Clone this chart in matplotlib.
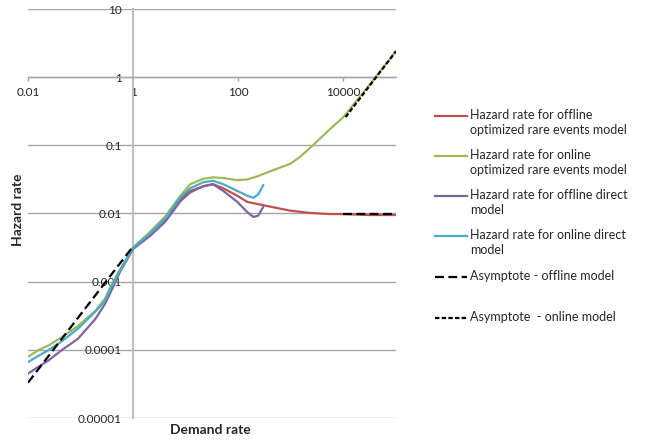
import matplotlib
matplotlib.use("Agg")
import matplotlib.pyplot as plt
import numpy as np
from matplotlib.lines import Line2D
from matplotlib.ticker import NullLocator

plt.rcParams['font.family'] = ['Lato', 'DejaVu Sans']

# ---------------- data ----------------
green_x = [0.01, 0.0155, 0.024, 0.043, 0.089, 0.19, 0.29, 0.38, 0.56, 1, 2.1, 4.1, 7.9,
           12.2, 21.6, 33, 52, 96, 148, 240, 407, 980, 1500, 2300, 5600, 10000, 32000,
           100000]
green_y = [7.9e-5, 9.8e-5, 1.15e-4, 1.51e-4, 2.24e-4, 3.72e-4, 5.6e-4, 8.7e-4, 1.51e-3,
           3.16e-3, 5.4e-3, 9.1e-3, 0.0182, 0.0269, 0.0324, 0.0339, 0.0331, 0.0309,
           0.0316, 0.0355, 0.0417, 0.0537, 0.068, 0.091, 0.174, 0.26, 0.79, 2.40]

cyan_x = [0.01, 0.0155, 0.024, 0.043, 0.089, 0.19, 0.29, 0.38, 0.56, 1, 2.1, 4.1, 7.9,
          12.2, 21.6, 33, 52, 96, 148, 193, 240, 300]
cyan_y = [6.6e-5, 8.1e-5, 9.8e-5, 1.32e-4, 2.04e-4, 3.63e-4, 5.2e-4, 8.3e-4, 1.45e-3,
          3.16e-3, 5.1e-3, 8.5e-3, 0.0174, 0.0234, 0.0288, 0.0302, 0.0269, 0.0214,
          0.0182, 0.0170, 0.0191, 0.0263]

purple_x = [0.01, 0.0155, 0.024, 0.043, 0.089, 0.19, 0.29, 0.38, 0.56, 1, 2.1, 4.1, 7.9,
            12.2, 21.6, 33, 52, 96, 148, 193, 240, 300]
purple_y = [4.47e-5, 5.6e-5, 6.9e-5, 9.8e-5, 1.45e-4, 2.82e-4, 4.68e-4, 7.2e-4, 1.38e-3,
            3.02e-3, 4.68e-3, 7.6e-3, 0.0151, 0.0204, 0.0251, 0.0269, 0.0214, 0.0148,
            0.0105, 0.0089, 0.0093, 0.0126]

red_x = [1, 2.1, 4.1, 7.9, 12.2, 21.6, 33, 52, 96, 148, 407, 980, 2300, 5600, 10000,
         32000, 100000]
red_y = [3.09e-3, 5.0e-3, 8.1e-3, 0.0162, 0.0214, 0.0251, 0.0269, 0.0234, 0.0182, 0.0148,
         0.0126, 0.0110, 0.0102, 0.0098, 0.0098, 0.0095, 0.0095]

offline_low_x = [0.01, 1]
offline_low_y = [3.3e-5, 3.3e-3]
offline_high_x = [10000, 100000]
offline_high_y = [0.0097, 0.0097]

online_x = [11000, 100000]
online_y = [0.26, 2.4]

y_ticks = [1e-5, 1e-4, 1e-3, 1e-2, 1e-1, 1, 10]
y_tick_labels = ["0.00001", "0.0001", "0.001", "0.01", "0.1", "1", "10"]
x_ticks = [0.01, 1, 100, 10000]
x_tick_labels = ["0.01", "1", "100", "10000"]

legend_labels = ["Hazard rate for offline\noptimized rare events model",
                 "Hazard rate for online\noptimized rare events model",
                 "Hazard rate for offline direct\nmodel",
                 "Hazard rate for online direct\nmodel",
                 "Asymptote - offline model",
                 "Asymptote  - online model"]

# ---------------- styles ----------------
C_RED = '#C0504D'
C_GREEN = '#9BBB59'
C_PURPLE = '#8064A2'
C_CYAN = '#4BACC6'
TXT = '#262626'
LW = 1.6

W, H = 655, 444
fig = plt.figure(figsize=(W / 100, H / 100), dpi=100)
ax = fig.add_axes([28 / W, 1 - 418 / H, (396 - 28) / W, (418 - 9) / H])
ax.set_xscale('log')
ax.set_yscale('log')
ax.set_xlim(0.01, 100000)
ax.set_ylim(1e-5, 10)

# gridlines
for yv in y_ticks:
    ax.axhline(yv, color='#a6a6a6', lw=1.0, zorder=0)

line_kw = dict(lw=LW, zorder=3, solid_joinstyle='round', solid_capstyle='round')
ax.plot(red_x, red_y, color=C_RED, **line_kw)
ax.plot(green_x, green_y, color=C_GREEN, **line_kw)
ax.plot(purple_x, purple_y, color=C_PURPLE, **line_kw)
ax.plot(cyan_x, cyan_y, color=C_CYAN, **line_kw)
ax.plot(offline_low_x, offline_low_y, color='black', lw=1.6, dashes=(4, 2), zorder=4)
ax.plot(offline_high_x, offline_high_y, color='black', lw=1.6, dashes=(4, 2), zorder=4)
ax.plot(online_x, online_y, color='black', lw=1.6, dashes=(2, 1), zorder=4)

# spines crossing at (1, 1)
ax.spines['top'].set_visible(False)
ax.spines['right'].set_visible(False)
ax.spines['left'].set_position(('data', 1))
ax.spines['bottom'].set_position(('data', 1))
ax.spines['left'].set_color('#bfbfbf')
ax.spines['left'].set_linewidth(1.5)
ax.spines['bottom'].set_color('#a6a6a6')
ax.spines['bottom'].set_linewidth(1.0)
ax.patch.set_visible(False)

ax.set_yticks(y_ticks)
ax.set_yticklabels(y_tick_labels)
ax.set_xticks(x_ticks)
ax.set_xticklabels(x_tick_labels)
ax.xaxis.set_minor_locator(NullLocator())
ax.yaxis.set_minor_locator(NullLocator())
ax.tick_params(axis='y', length=0, pad=8, labelsize=8.5, labelcolor=TXT)
ax.tick_params(axis='x', length=3, width=1, color='#a6a6a6', pad=4, labelsize=8.5,
               labelcolor=TXT, direction='out')

fig.text(18 / W, 1 - 210 / H, "Hazard rate", rotation=90, ha='center', va='center',
         fontsize=10, fontweight='bold', color=TXT)
fig.text(210 / W, 1 - 430 / H, "Demand rate", ha='center', va='center',
         fontsize=10, fontweight='bold', color=TXT)

# manual legend
leg_styles = [dict(color=C_RED, lw=LW), dict(color=C_GREEN, lw=LW),
              dict(color=C_PURPLE, lw=LW), dict(color=C_CYAN, lw=LW),
              dict(color='black', lw=1.6, dashes=(4, 2)),
              dict(color='black', lw=1.6, dashes=(2, 1))]
leg_y = [116, 156, 196, 236, 277, 318]
for lab, st, yy in zip(legend_labels, leg_styles, leg_y):
    fy = 1 - yy / H
    fig.add_artist(Line2D([435 / W, 467 / W], [fy, fy], transform=fig.transFigure, **st))
    fig.text(470 / W, 1 - (yy - 7) / H, lab, ha='left', va='top', fontsize=9,
             color=TXT, linespacing=1.3)

fig.savefig('out.png', dpi=100)
